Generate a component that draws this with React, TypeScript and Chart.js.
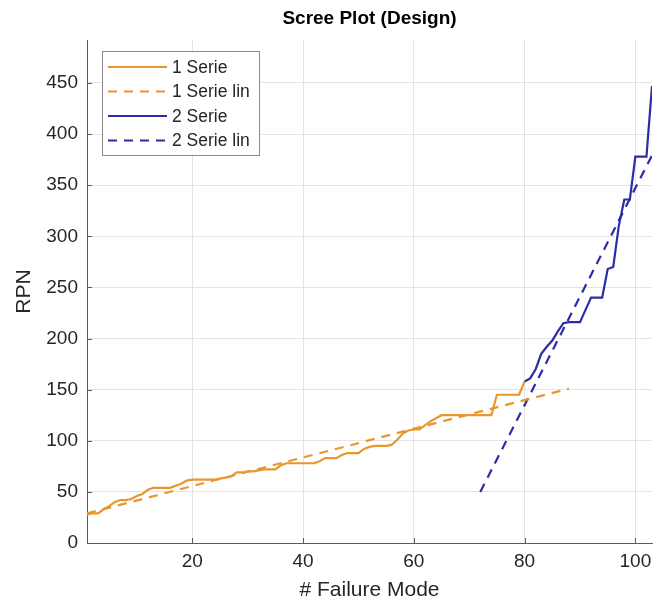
import React, { useEffect, useRef } from "react";
import { Chart, registerables } from "chart.js";

Chart.register(...registerables);

// ---- data ----
const series1StartX = 1;
const series1Values = [
  28, 29, 29, 33, 36, 40, 42, 42, 43, 46,
  48, 52, 54, 54, 54, 54, 56, 58, 61, 62,
  62, 62, 62, 62, 63, 64, 65, 69, 69, 70,
  70, 71, 72, 72, 72, 76, 78, 78, 78, 78,
  78, 78, 80, 83, 83, 83, 86, 88, 88, 88,
  92, 94, 95, 95, 95, 96, 101, 107, 110, 111,
  111, 115, 119, 122, 125, 125, 125, 125, 125, 125,
  125, 125, 125, 125, 145, 145, 145, 145, 145, 158,
];
const series2StartX = 80;
const series2Values = [
  158, 161, 170, 185, 192, 198, 207, 215, 216, 216,
  216, 228, 240, 240, 240, 268, 270, 310, 336, 336,
  378, 378, 378, 447,
];
const series1LinX = [1, 88];
const series1LinY = [29, 151];
const series2LinX = [72, 103];
const series2LinY = [50, 379];

const xTicks = [20, 40, 60, 80, 100];
const yTicks = [0, 50, 100, 150, 200, 250, 300, 350, 400, 450];
const legendLabels = ["1 Serie", "1 Serie lin", "2 Serie", "2 Serie lin"];
const chartTitle = "Scree Plot (Design)";
const xTitle = "# Failure Mode";
const yTitle = "RPN";

const ORANGE = "#E8962F";
const BLUE = "#2C2CA6";
const FONT = "'Liberation Sans', Arial, Helvetica, sans-serif";
const TEXT = "#262626";
const AXIS = "#5a5a5a";

const toPoints = (start: number, vals: number[]) =>
  vals.map((v, i) => ({ x: start + i, y: v }));
const zipPoints = (xs: number[], ys: number[]) =>
  xs.map((x, i) => ({ x, y: ys[i] }));

const decorPlugin = {
  id: "decor",
  afterDraw(chart: any) {
    const ctx = chart.ctx;
    const area = chart.chartArea;
    const xs = chart.scales.x;
    const ys = chart.scales.y;
    ctx.save();
    // inward ticks
    ctx.strokeStyle = AXIS;
    ctx.lineWidth = 1;
    ctx.beginPath();
    xTicks.forEach((t) => {
      const px = Math.round(xs.getPixelForValue(t)) + 0.5;
      ctx.moveTo(px, area.bottom);
      ctx.lineTo(px, area.bottom - 5);
    });
    yTicks.forEach((t) => {
      const py = Math.round(ys.getPixelForValue(t)) + 0.5;
      ctx.moveTo(area.left, py);
      ctx.lineTo(area.left + 5, py);
    });
    ctx.stroke();

    // title
    ctx.fillStyle = "#000";
    ctx.font = `bold 19px ${FONT}`;
    ctx.textAlign = "center";
    ctx.textBaseline = "middle";
    ctx.fillText(chartTitle, (area.left + area.right) / 2, 19);

    // legend
    const bx = 102, by = 51, bw = 157, bh = 104;
    ctx.fillStyle = "#fff";
    ctx.fillRect(bx, by, bw, bh);
    ctx.strokeStyle = "#8a8a8a";
    ctx.strokeRect(bx + 0.5, by + 0.5, bw, bh);
    const styles = [
      { c: ORANGE, d: [] as number[] },
      { c: ORANGE, d: [9, 7] },
      { c: BLUE, d: [] as number[] },
      { c: BLUE, d: [9, 7] },
    ];
    ctx.font = `17.5px ${FONT}`;
    ctx.textAlign = "left";
    legendLabels.forEach((lab, i) => {
      const y = 67 + i * 24.5;
      ctx.strokeStyle = styles[i].c;
      ctx.lineWidth = 2;
      ctx.setLineDash(styles[i].d);
      ctx.beginPath();
      ctx.moveTo(108, y);
      ctx.lineTo(167, y);
      ctx.stroke();
      ctx.setLineDash([]);
      ctx.fillStyle = TEXT;
      ctx.fillText(lab, 172, y + 1);
    });
    ctx.restore();
  },
};

export default function App() {
  const ref = useRef<HTMLCanvasElement | null>(null);
  useEffect(() => {
    if (!ref.current) return;
    const chart = new Chart(ref.current, {
      type: "line",
      data: {
        datasets: [
          {
            label: legendLabels[0],
            data: toPoints(series1StartX, series1Values),
            borderColor: ORANGE,
            borderWidth: 2.2,
            pointRadius: 0,
            tension: 0,
          },
          {
            label: legendLabels[1],
            data: zipPoints(series1LinX, series1LinY),
            borderColor: ORANGE,
            borderWidth: 2.2,
            borderDash: [9, 7],
            pointRadius: 0,
          },
          {
            label: legendLabels[2],
            data: toPoints(series2StartX, series2Values),
            borderColor: BLUE,
            borderWidth: 2.2,
            pointRadius: 0,
            tension: 0,
          },
          {
            label: legendLabels[3],
            data: zipPoints(series2LinX, series2LinY),
            borderColor: BLUE,
            borderWidth: 2.2,
            borderDash: [9, 7],
            pointRadius: 0,
          },
        ],
      },
      options: {
        animation: false,
        responsive: false,
        devicePixelRatio: 1,
        layout: { padding: { top: 40, right: 11, left: 0, bottom: 0 } },
        plugins: { legend: { display: false }, title: { display: false }, tooltip: { enabled: false } },
        scales: {
          x: {
            type: "linear",
            min: 1,
            max: 103,
            afterBuildTicks: (s: any) => {
              s.ticks = xTicks.map((v) => ({ value: v }));
            },
            afterFit: (s: any) => {
              s.height = 63;
            },
            ticks: {
              font: { size: 19, family: FONT },
              color: TEXT,
              padding: 7,
              maxRotation: 0,
              autoSkip: false,
            },
            grid: { color: "#e4e4e4", drawTicks: false, tickLength: 0 },
            border: { display: true, color: AXIS, width: 1 },
            title: {
              display: true,
              text: xTitle,
              font: { size: 21, family: FONT },
              color: TEXT,
              padding: { top: 0, bottom: 3 },
            },
          },
          y: {
            type: "linear",
            min: 0,
            max: 492,
            afterBuildTicks: (s: any) => {
              s.ticks = yTicks.map((v) => ({ value: v }));
            },
            afterFit: (s: any) => {
              s.width = 87;
            },
            ticks: {
              font: { size: 19, family: FONT },
              color: TEXT,
              padding: 9,
              autoSkip: false,
            },
            grid: { color: "#e4e4e4", drawTicks: false, tickLength: 0 },
            border: { display: true, color: AXIS, width: 1 },
            title: {
              display: true,
              text: yTitle,
              font: { size: 21, family: FONT },
              color: TEXT,
              padding: { top: 12, bottom: 0 },
            },
          },
        },
      },
      plugins: [decorPlugin],
    } as any);
    return () => chart.destroy();
  }, []);
  return (
    <div style={{ position: "absolute", left: 0, top: 0, width: 663, height: 606, background: "#fff" }}>
      <canvas ref={ref} width={663} height={606} style={{ width: 663, height: 606 }} />
    </div>
  );
}
